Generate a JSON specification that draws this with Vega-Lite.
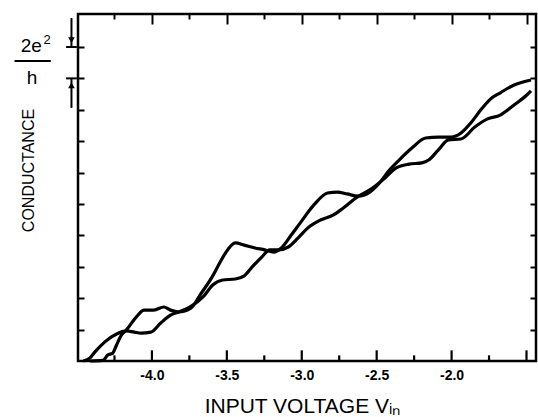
{
  "$schema": "https://vega.github.io/schema/vega-lite/v6.json",
  "width": 458,
  "height": 347,
  "autosize": {"type": "none"},
  "padding": {"left": 78, "top": 14, "right": 2, "bottom": 56},
  "background": "white",
  "config": {"view": {"stroke": "black", "strokeWidth": 2.5}, "font": "Liberation Sans"},
  "datasets": {
    "curves": [
      {"c": "A", "v": -4.413, "g": 0},
      {"c": "A", "v": -4.327, "g": 0.02},
      {"c": "A", "v": -4.295, "g": 0.19},
      {"c": "A", "v": -4.262, "g": 0.25},
      {"c": "A", "v": -4.236, "g": 0.51},
      {"c": "A", "v": -4.203, "g": 0.83},
      {"c": "A", "v": -4.17, "g": 0.99},
      {"c": "A", "v": -4.105, "g": 1.4},
      {"c": "A", "v": -4.052, "g": 1.62},
      {"c": "A", "v": -3.987, "g": 1.62},
      {"c": "A", "v": -3.921, "g": 1.72},
      {"c": "A", "v": -3.876, "g": 1.62},
      {"c": "A", "v": -3.823, "g": 1.56},
      {"c": "A", "v": -3.738, "g": 1.69},
      {"c": "A", "v": -3.679, "g": 2.1},
      {"c": "A", "v": -3.594, "g": 2.71},
      {"c": "A", "v": -3.548, "g": 3.12},
      {"c": "A", "v": -3.509, "g": 3.44},
      {"c": "A", "v": -3.443, "g": 3.76},
      {"c": "A", "v": -3.384, "g": 3.69},
      {"c": "A", "v": -3.312, "g": 3.6},
      {"c": "A", "v": -3.247, "g": 3.54},
      {"c": "A", "v": -3.188, "g": 3.47},
      {"c": "A", "v": -3.136, "g": 3.6},
      {"c": "A", "v": -3.07, "g": 4.01},
      {"c": "A", "v": -3.005, "g": 4.43},
      {"c": "A", "v": -2.919, "g": 4.97},
      {"c": "A", "v": -2.828, "g": 5.35},
      {"c": "A", "v": -2.762, "g": 5.38},
      {"c": "A", "v": -2.697, "g": 5.32},
      {"c": "A", "v": -2.625, "g": 5.25},
      {"c": "A", "v": -2.546, "g": 5.38},
      {"c": "A", "v": -2.481, "g": 5.67},
      {"c": "A", "v": -2.415, "g": 6.08},
      {"c": "A", "v": -2.35, "g": 6.4},
      {"c": "A", "v": -2.265, "g": 6.78},
      {"c": "A", "v": -2.173, "g": 7.1},
      {"c": "A", "v": -2.088, "g": 7.13},
      {"c": "A", "v": -2.003, "g": 7.13},
      {"c": "A", "v": -1.937, "g": 7.26},
      {"c": "A", "v": -1.872, "g": 7.58},
      {"c": "A", "v": -1.806, "g": 7.99},
      {"c": "A", "v": -1.741, "g": 8.34},
      {"c": "A", "v": -1.675, "g": 8.54},
      {"c": "A", "v": -1.583, "g": 8.79},
      {"c": "A", "v": -1.518, "g": 8.89},
      {"c": "A", "v": -1.47, "g": 8.95},
      {"c": "B", "v": -4.458, "g": 0},
      {"c": "B", "v": -4.413, "g": 0.1},
      {"c": "B", "v": -4.38, "g": 0.29},
      {"c": "B", "v": -4.314, "g": 0.61},
      {"c": "B", "v": -4.236, "g": 0.86},
      {"c": "B", "v": -4.17, "g": 0.96},
      {"c": "B", "v": -4.118, "g": 0.92},
      {"c": "B", "v": -4.072, "g": 0.89},
      {"c": "B", "v": -4.007, "g": 0.92},
      {"c": "B", "v": -3.941, "g": 1.21},
      {"c": "B", "v": -3.876, "g": 1.46},
      {"c": "B", "v": -3.823, "g": 1.56},
      {"c": "B", "v": -3.745, "g": 1.72},
      {"c": "B", "v": -3.659, "g": 2.04},
      {"c": "B", "v": -3.594, "g": 2.42},
      {"c": "B", "v": -3.528, "g": 2.58},
      {"c": "B", "v": -3.443, "g": 2.61},
      {"c": "B", "v": -3.384, "g": 2.71},
      {"c": "B", "v": -3.332, "g": 2.99},
      {"c": "B", "v": -3.267, "g": 3.31},
      {"c": "B", "v": -3.214, "g": 3.54},
      {"c": "B", "v": -3.155, "g": 3.54},
      {"c": "B", "v": -3.09, "g": 3.63},
      {"c": "B", "v": -3.024, "g": 3.92},
      {"c": "B", "v": -2.959, "g": 4.24},
      {"c": "B", "v": -2.874, "g": 4.49},
      {"c": "B", "v": -2.788, "g": 4.65},
      {"c": "B", "v": -2.723, "g": 4.87},
      {"c": "B", "v": -2.631, "g": 5.22},
      {"c": "B", "v": -2.546, "g": 5.45},
      {"c": "B", "v": -2.461, "g": 5.76},
      {"c": "B", "v": -2.369, "g": 6.15},
      {"c": "B", "v": -2.284, "g": 6.27},
      {"c": "B", "v": -2.199, "g": 6.31},
      {"c": "B", "v": -2.153, "g": 6.4},
      {"c": "B", "v": -2.088, "g": 6.72},
      {"c": "B", "v": -2.022, "g": 7.04},
      {"c": "B", "v": -1.937, "g": 7.07},
      {"c": "B", "v": -1.845, "g": 7.45},
      {"c": "B", "v": -1.76, "g": 7.71},
      {"c": "B", "v": -1.675, "g": 7.83},
      {"c": "B", "v": -1.583, "g": 8.15},
      {"c": "B", "v": -1.498, "g": 8.47},
      {"c": "B", "v": -1.47, "g": 8.6}
    ],
    "rules": [
      {"x1": -4.537, "x2": -4.537, "y1": 10.92, "y2": 10.0},
      {"x1": -4.573, "x2": -4.501, "y1": 10.0, "y2": 10.0},
      {"x1": -4.573, "x2": -4.501, "y1": 9.0, "y2": 9.0},
      {"x1": -4.537, "x2": -4.537, "y1": 9.0, "y2": 8.06},
      {"x1": -4.917, "x2": -4.675, "y1": 9.55, "y2": 9.55}
    ],
    "heads": [
      {"v": -4.537, "g": 10.22, "s": "triangle-down"},
      {"v": -4.537, "g": 8.78, "s": "triangle-up"}
    ],
    "texts": [
      {"v": -4.805, "g": 9.84, "t": "2e", "fs": 19},
      {"v": -4.7, "g": 10.08, "t": "2", "fs": 13},
      {"v": -4.8, "g": 8.82, "t": "h", "fs": 19}
    ],
    "ticks": [
      {"v": -4.0, "lo": 0.02, "hi": 0.34},
      {"v": -3.5, "lo": 0.02, "hi": 0.34},
      {"v": -3.0, "lo": 0.02, "hi": 0.34},
      {"v": -2.5, "lo": 0.02, "hi": 0.34},
      {"v": -2.0, "lo": 0.02, "hi": 0.34},
      {"v": -1.5, "lo": 0.02, "hi": 0.34},
      {"v": -4.25, "lo": 0.02, "hi": 0.18},
      {"v": -3.75, "lo": 0.02, "hi": 0.18},
      {"v": -3.25, "lo": 0.02, "hi": 0.18},
      {"v": -2.75, "lo": 0.02, "hi": 0.18},
      {"v": -2.25, "lo": 0.02, "hi": 0.18},
      {"v": -1.75, "lo": 0.02, "hi": 0.18}
    ]
  },
  "resolve": {"axis": {"x": "independent", "y": "independent"}},
  "layer": [
    {
      "data": {"name": "ticks"},
      "mark": {"type": "bar", "color": "black", "width": 2.2, "orient": "vertical"},
      "encoding": {
        "x": {
          "field": "v", "type": "quantitative",
          "scale": {"domain": [-4.46, -1.47], "nice": false, "zero": false},
          "axis": {
            "orient": "bottom",
            "values": [-4, -3.5, -3, -2.5, -2, -1.5],
            "domain": false, "grid": false, "ticks": false,
            "labelExpr": "datum.value < -1.6 ? '-' + format(-datum.value, '.1f') : ''",
            "labelPadding": 7,
            "labelFontSize": 14, "labelFontWeight": "bold", "labelColor": "black",
            "title": "INPUT VOLTAGE Vᵢₙ",
            "titleFontSize": 21, "titleFontWeight": "normal", "titleColor": "black",
            "titlePadding": 13, "titleX": 224, "titleAlign": "center"
          }
        },
        "y": {
          "field": "lo", "type": "quantitative",
          "scale": {"domain": [0, 11.05], "nice": false, "zero": false},
          "axis": {
            "orient": "left",
            "values": [1, 2, 3, 4, 5, 6, 7, 8, 9, 10],
            "domain": false, "grid": false, "labels": false,
            "tickColor": "black", "tickWidth": 2, "tickSize": -6,
            "title": "CONDUCTANCE",
            "titleFontSize": 16, "titleFontWeight": "normal", "titleColor": "black",
            "titleAngle": 270, "titleAlign": "center", "titleBaseline": "alphabetic",
            "titleX": -45, "titleY": 156
          }
        },
        "y2": {"field": "hi"}
      }
    },
    {
      "data": {"name": "curves"},
      "mark": {"type": "line", "interpolate": "monotone", "strokeWidth": 3.2, "color": "black"},
      "encoding": {
        "x": {"field": "v", "type": "quantitative", "scale": {"domain": [-4.46, -1.47], "nice": false, "zero": false}, "axis": null},
        "y": {"field": "g", "type": "quantitative", "scale": {"domain": [0, 11.05], "nice": false, "zero": false}, "axis": null},
        "detail": {"field": "c"}
      }
    },
    {
      "data": {"name": "rules"},
      "mark": {"type": "rule", "strokeWidth": 2, "color": "black"},
      "encoding": {
        "x": {
          "field": "x1", "type": "quantitative",
          "scale": {"domain": [-4.46, -1.47], "nice": false, "zero": false},
          "axis": {
            "orient": "top",
            "values": [-4, -3.5, -3, -2.5, -2, -1.5],
            "domain": false, "grid": false, "labels": false, "title": null,
            "tickColor": "black", "tickWidth": 2, "tickSize": -10
          }
        },
        "x2": {"field": "x2"},
        "y": {
          "field": "y1", "type": "quantitative",
          "scale": {"domain": [0, 11.05], "nice": false, "zero": false},
          "axis": {
            "orient": "right",
            "values": [1, 2, 3, 4, 5, 6, 7, 8, 9, 10],
            "domain": false, "grid": false, "labels": false, "title": null,
            "tickColor": "black", "tickWidth": 2, "tickSize": -6
          }
        },
        "y2": {"field": "y2"}
      }
    },
    {
      "data": {"name": "heads"},
      "mark": {"type": "point", "filled": true, "color": "black", "size": 45, "opacity": 1},
      "encoding": {
        "x": {"field": "v", "type": "quantitative", "scale": {"domain": [-4.46, -1.47], "nice": false, "zero": false}, "axis": null},
        "y": {"field": "g", "type": "quantitative", "scale": {"domain": [0, 11.05], "nice": false, "zero": false}, "axis": null},
        "shape": {"field": "s", "type": "nominal", "scale": {"domain": ["triangle-down", "triangle-up"], "range": ["triangle-down", "triangle-up"]}, "legend": null}
      }
    },
    {
      "data": {"name": "texts"},
      "mark": {"type": "text", "color": "black", "align": "center", "baseline": "alphabetic"},
      "encoding": {
        "x": {
          "field": "v", "type": "quantitative",
          "scale": {"domain": [-4.46, -1.47], "nice": false, "zero": false},
          "axis": {
            "orient": "top",
            "values": [-4.25, -3.75, -3.25, -2.75, -2.25, -1.75],
            "domain": false, "grid": false, "labels": false, "title": null,
            "tickColor": "black", "tickWidth": 2, "tickSize": -5
          }
        },
        "y": {"field": "g", "type": "quantitative", "scale": {"domain": [0, 11.05], "nice": false, "zero": false}, "axis": null},
        "text": {"field": "t"},
        "size": {"field": "fs", "type": "quantitative", "scale": null}
      }
    }
  ]
}
